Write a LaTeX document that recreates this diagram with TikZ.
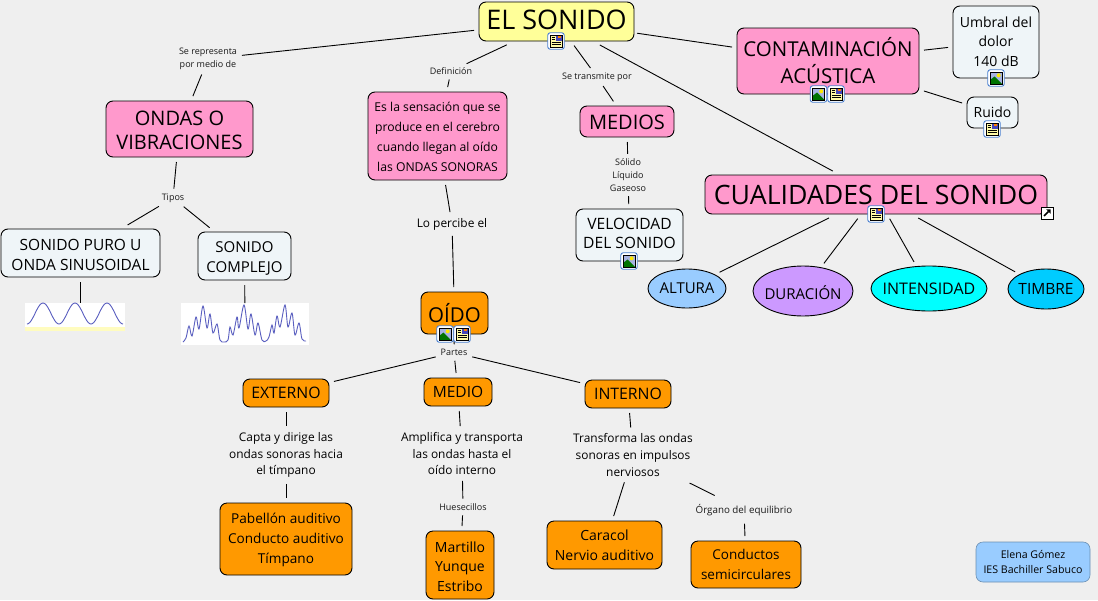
\documentclass[tikz,border=0pt]{standalone}
\usepackage{fontspec}
\setmainfont{Open Sans}
\usetikzlibrary{shapes.geometric}
\definecolor{bgc}{HTML}{EFEFEF}
\definecolor{pinkc}{HTML}{FF99CC}
\definecolor{yelc}{HTML}{FFFF99}
\definecolor{orac}{HTML}{FF9900}
\definecolor{palec}{HTML}{EFF5F8}
\definecolor{bluec}{HTML}{99CCFF}
\definecolor{purc}{HTML}{CC99FF}
\definecolor{cyanc}{HTML}{00FFFF}
\definecolor{skyc}{HTML}{00CCFF}
\definecolor{wavec}{HTML}{5A5FC0}
\definecolor{iconb}{HTML}{4A80D0}
\newcommand{\fsz}[2]{\fontsize{#1}{#2}\selectfont}
% moves the text of a node without moving its box
\newcommand{\tdown}[2]{\raisebox{-#1pt}[\height][\depth]{\begin{tabular}{@{}c@{}}#2\end{tabular}}}
\tikzset{
  x=1pt,y=-1pt,
  concept/.style={draw=black,line width=0.9pt,rounded corners=7pt,align=center,inner sep=0pt,outer sep=3pt,text=black},
  linklabel/.style={align=center,inner sep=1pt,outer sep=2pt,text=black!90,font=\fsz{9}{12.7}},
  linkbig/.style={align=center,inner sep=1pt,outer sep=3pt,text=black,font=\fsz{11.9}{16.8}},
  oval/.style={ellipse,draw=black,line width=0.9pt,inner sep=0pt,outer sep=3pt,text=black,font=\fsz{15}{18}},
  conn/.style={draw=black,line width=0.9pt,shorten <=2pt,shorten >=2pt},
  iconbox/.style={draw=iconb,fill=white,line width=0.9pt,rounded corners=2.5pt,minimum size=16.5pt,inner sep=0pt},
  imagebox/.style={fill=white,inner sep=0pt,outer sep=0pt},
}
% box by its pixel edges: name, x1, y1, x2, y2, style, text
\newcommand{\bx}[7]{\node[concept,#6,minimum width={#4-#2},minimum height={#5-#3}] (#1) at ({(#2+#4)/2},{(#3+#5)/2}) {#7};}
\newcommand{\imgicon}[3]{%
  \node[iconbox] (#1) at (#2,#3) {};
  \begin{scope}[shift={(#2,#3)}]
    \fill[cyan!35!blue!35] (-6,-6) rectangle (6,6);
    \fill[green!45!black] (-6,6) -- (-6,2) -- (-1.5,-1.5) -- (6,6) -- cycle;
    \fill[yellow!90!orange] (2.7,-2.7) circle (2);
    \draw[black,line width=0.6pt] (-6,-6) rectangle (6,6);
  \end{scope}}
\newcommand{\docicon}[3]{%
  \node[iconbox] (#1) at (#2,#3) {};
  \begin{scope}[shift={(#2,#3)}]
    \fill[yellow!35] (-6,-6) rectangle (6,6);
    \fill[blue!45!gray] (0,-5.5) rectangle (5.5,0);
    \fill[orange] (2,-5) rectangle (4.5,-3);
    \draw[black,line width=0.7pt] (-4.5,-3.5) -- (-1,-3.5) (-4.5,-1.2) -- (-1,-1.2) (-4.5,1.4) -- (4.5,1.4) (-4.5,3.8) -- (4.5,3.8);
    \draw[black,line width=0.6pt] (-6,-6) rectangle (6,6);
  \end{scope}}
\begin{document}
\begin{tikzpicture}
\useasboundingbox (0,0) rectangle (1098,600);
\fill[bgc] (0,0) rectangle (1098,600);

\bx{sonido}{479}{2}{634}{41}{fill=yelc,font=\fsz{27}{32}}{\tdown{1.5}{EL SONIDO}}
\bx{contam}{737}{28}{919}{94}{fill=pinkc,font=\fsz{20.5}{25}}{\tdown{3}{CONTAMINACIÓN\\ACÚSTICA}}
\bx{umbral}{953}{6}{1039}{78}{fill=palec,font=\fsz{14}{19.5}}{\tdown{1}{Umbral del\\dolor\\140 dB}}
\bx{ruido}{967}{97}{1018}{128}{fill=palec,font=\fsz{14}{19}}{Ruido}
\bx{ondas}{106}{101}{253}{157}{fill=pinkc,font=\fsz{20}{24.5}}{\tdown{3.5}{ONDAS O\\VIBRACIONES}}
\bx{defi}{368}{92}{507}{180}{fill=pinkc,font=\fsz{12.2}{20}}{\tdown{1.5}{Es la sensación que se\\produce en el cerebro\\cuando llegan al oído\\las ONDAS SONORAS}}
\bx{medios}{580}{106}{674}{137}{fill=pinkc,font=\fsz{20}{22}}{\tdown{4}{MEDIOS}}
\bx{cualid}{705}{175}{1047}{214}{fill=pinkc,font=\fsz{26.7}{32}}{CUALIDADES DEL SONIDO}
\bx{veloc}{576}{209}{683}{261}{fill=palec,font=\fsz{15.6}{19.2}}{\tdown{0.5}{VELOCIDAD\\DEL SONIDO}}
\bx{puro}{1}{229}{160}{277}{fill=palec,font=\fsz{15.5}{20}}{\tdown{3}{SONIDO PURO U\\ONDA SINUSOIDAL}}
\bx{complejo}{198}{232}{291}{280}{fill=palec,font=\fsz{15}{20}}{\tdown{2}{SONIDO\\COMPLEJO}}
\bx{oido}{421}{292}{488}{334}{fill=orac,font=\fsz{20.5}{24}}{OÍDO}
\bx{externo}{243}{379}{329}{407}{fill=orac,font=\fsz{15.8}{18}}{EXTERNO}
\bx{medio}{424}{378}{492}{406}{fill=orac,font=\fsz{15.5}{18}}{MEDIO}
\bx{interno}{585}{380}{671}{408}{fill=orac,font=\fsz{15.8}{18}}{INTERNO}
\bx{pabellon}{220}{503}{352}{575}{fill=orac,font=\fsz{13.6}{20}}{\tdown{0.5}{Pabellón auditivo\\Conducto auditivo\\Tímpano}}
\bx{martillo}{426}{531}{494}{599}{fill=orac,font=\fsz{14}{19.8}}{\tdown{3}{Martillo\\Yunque\\Estribo}}
\bx{caracol}{547}{521}{662}{569}{fill=orac,font=\fsz{14}{20}}{Caracol\\Nervio auditivo}
\bx{conductos}{691}{541}{801}{588}{fill=orac,font=\fsz{13.5}{20}}{Conductos\\semicirculares}
\bx{autora}{976}{542}{1090}{582}{fill=bluec,draw=bluec!70!black,line width=0.6pt,font=\fsz{10.6}{15}}{Elena Gómez\\IES Bachiller Sabuco}

\node[oval,fill=bluec,minimum width=78pt,minimum height=39pt] (altura) at (687,288.5) {\makebox[0pt]{ALTURA}};
\node[oval,fill=purc,minimum width=100pt,minimum height=50pt] (duracion) at (803,291) {\makebox[0pt]{\tdown{4}{DURACIÓN}}};
\node[oval,fill=cyanc,minimum width=116pt,minimum height=45pt,font=\fsz{16}{18}] (intens) at (929,288.5) {\makebox[0pt]{INTENSIDAD}};
\node[oval,fill=skyc,minimum width=76pt,minimum height=40pt,font=\fsz{15.5}{18}] (timbre) at (1046,289) {\makebox[0pt]{TIMBRE}};

\node[linklabel] (lrep) at (208,59) {Se representa\\por medio de};
\node[linklabel] (ldef) at (451,71) {Definición};
\node[linklabel] (ltrans) at (597,77) {Se transmite por};
\node[linklabel] (lsol) at (628,175) {Sólido\\Líquido\\Gaseoso};
\node[linklabel] (ltipos) at (173,198) {Tipos};
\node[linkbig] (lperc) at (452,224) {Lo percibe el};
\node[linklabel] (lpartes) at (454,352.5) {Partes};
\node[linkbig] (lcapta) at (286,455) {Capta y dirige las\\ondas sonoras hacia\\el tímpano};
\node[linkbig] (lampl) at (462,453.5) {Amplifica y transporta\\las ondas hasta el\\oído interno};
\node[linklabel] (lhues) at (463,507) {Huesecillos};
\node[linkbig] (ltransf) at (633,455) {Transforma las ondas\\sonoras en impulsos\\nerviosos};
\node[linklabel,font=\fsz{9.8}{12.7}] (lorg) at (744,510) {Órgano del equilibrio};

\node[imagebox,minimum width=100pt,minimum height=28pt] (wavea) at (75,317) {};
\fill[yellow!25] (25,327) rectangle (125,331);
\draw[wavec,line width=0.9pt] plot[domain=27:123,samples=70,smooth] (\x,{313.5-10.5*cos((\x-43)/32*360)});
\node[imagebox,minimum width=128pt,minimum height=42pt] (waveb) at (245,324) {};
\draw[wavec,line width=0.9pt] plot[smooth,tension=0.55] coordinates {
(183,342)(186,338)(189,326)(192,336)(196,317)(199,329)(203,306)(207,328)(210,314)(213,333)(217,324)(220,340)(224,342)(228,340)(230,327)(233,335)(237,317)(239,328)(244,305)(248,329)(251,314)(255,335)(258,323)(262,340)(266,341)(269,337)(272,325)(274,333)(277,316)(280,327)(285,305)(288,327)(292,313)(295,335)(299,323)(302,339)(306,341)};

\draw[conn] (sonido) -- (lrep);
\draw[conn] (lrep) -- (ondas);
\draw[conn] (sonido) -- (ldef);
\draw[conn] (ldef) -- (defi);
\draw[conn] (sonido) -- (ltrans);
\draw[conn] (ltrans) -- (medios);
\draw[conn] (sonido) -- (cualid);
\draw[conn,shorten <=0pt] (sonido) -- (contam);
\draw[conn] (contam) -- (umbral);
\draw[conn] (contam) -- (ruido);
\draw[conn] (ondas) -- (ltipos);
\draw[conn] (ltipos) -- (puro);
\draw[conn] (ltipos) -- (complejo);
\draw[conn,shorten >=0pt] (puro.south) -- (puro.south |- wavea.north);
\draw[conn,shorten >=0pt] (complejo) -- (waveb);
\draw[conn] (defi) -- (lperc);
\draw[conn] (lperc) -- (oido);
\draw[conn] (medios) -- (lsol);
\draw[conn] (lsol) -- (veloc);
\draw[conn] (oido) -- (lpartes);
\draw[conn] (lpartes) -- (externo);
\draw[conn] (lpartes) -- (medio);
\draw[conn] (lpartes) -- (interno);
\draw[conn] (externo) -- (lcapta);
\draw[conn] (lcapta) -- (pabellon);
\draw[conn] (medio) -- (lampl);
\draw[conn] (lampl) -- (lhues);
\draw[conn] (lhues) -- (martillo);
\draw[conn] (interno) -- (ltransf);
\draw[conn] (ltransf) -- (caracol);
\draw[conn,shorten <=6pt,shorten >=13pt] (ltransf) -- (lorg);
\draw[conn,shorten <=5pt] (lorg) -- (conductos);
\draw[conn] (cualid) -- (altura);
\draw[conn] (cualid) -- (duracion);
\draw[conn] (cualid) -- (intens);
\draw[conn] (cualid) -- (timbre);

\docicon{i1}{556}{41}
\imgicon{i2}{818.5}{94}
\docicon{i3}{836}{94}
\imgicon{i4}{996}{78}
\docicon{i5}{992}{129}
\docicon{i6}{876}{214}
\imgicon{i7}{629}{261}
\imgicon{i8}{445}{334}
\docicon{i9}{462}{334}
\node[draw=black,fill=white,line width=1pt,minimum size=12pt,inner sep=0pt] (short) at (1047,213) {};
\begin{scope}[shift={(1047,213)}]
  \draw[black,line width=1.5pt] (-3,3) -- (1.5,-1.5);
  \fill[black] (-0.8,-3.6) -- (3.6,-3.6) -- (3.6,0.8) -- cycle;
\end{scope}
\end{tikzpicture}
\end{document}
